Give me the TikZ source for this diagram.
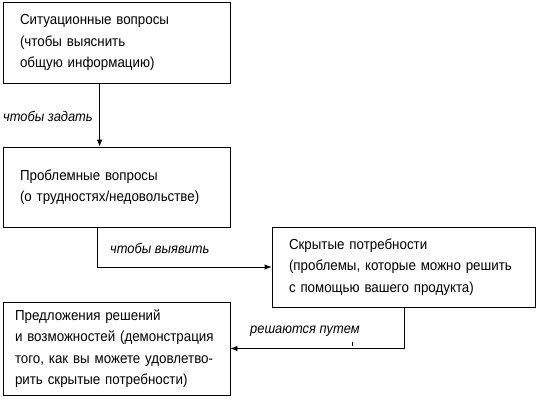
\documentclass[tikz,border=0pt]{standalone}
\usepackage{fontspec}
\setmainfont{Liberation Sans}[FakeStretch=0.92]
\usetikzlibrary{arrows.meta,calc}
\begin{document}
\begin{tikzpicture}[x=1pt,y=-1pt,
  box/.style={draw,line width=0.8pt,rectangle,inner sep=0pt,align=left,
    font=\fontsize{14.5}{21.5}\selectfont},
  lbl/.style={anchor=west,inner sep=0pt,font=\fontsize{14}{16}\selectfont\itshape},
  arr/.style={draw,line width=0.8pt,-{Latex[length=7pt,width=5.5pt]}}]
\useasboundingbox (0,0) rectangle (540,400);
\node[box,minimum width=227pt,minimum height=81pt,text width=193pt] (b1) at (116.5,42.5)
  {Ситуационные вопросы\\(чтобы выяснить\\общую информацию)};
\node[box,minimum width=227pt,minimum height=80pt,text width=193pt] (b2) at (116.5,187)
  {Проблемные вопросы\\(о трудностях/недовольстве)};
\node[box,minimum width=263pt,minimum height=80pt,text width=229pt] (b3) at (403.5,267)
  {Скрытые потребности\\(проблемы, которые можно решить\\с помощью вашего продукта)};
\node[box,minimum width=227pt,minimum height=93pt,text width=203pt] (b4) at (116.5,348.5)
  {Предложения решений\\и возможностей (демонстрация\\того, как вы можете удовлетво-\\рить скрытые потребности)};
\node[lbl] (l1) at (3,116) {чтобы задать};
\node[lbl] (l2) at (110,248) {чтобы выявить};
\node[lbl] (l3) at (250,331) {решаются путем};
\coordinate (c1) at ($(b1.south west)+(97,0)$);
\coordinate (c2) at ($(b2.north west)+(97,0)$);
\coordinate (c3) at ($(b2.south west)+(95,0)$);
\coordinate (c4) at ($(b3.south west)+(133,0)$);
\draw[arr] (c1) -- (c2);
\draw[arr] (c3) |- (b3.west);
\draw[arr] (c4) |- (b4.east);
\coordinate (t1) at (352,342);
\coordinate (t2) at (352,346);
\draw[line width=0.6pt] (t1) -- (t2);
\end{tikzpicture}
\end{document}
